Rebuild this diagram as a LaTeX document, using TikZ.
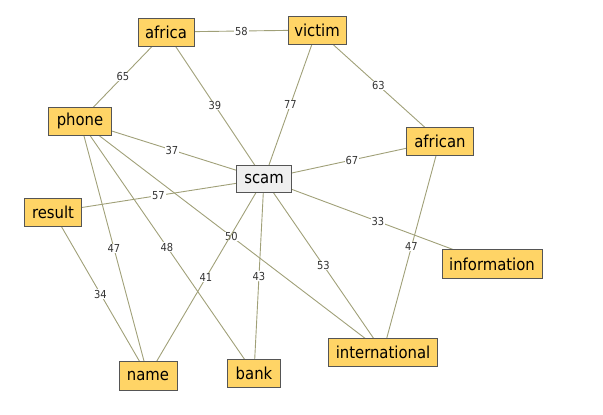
\documentclass[tikz,border=0pt]{standalone}
\usepackage{fontspec}
\setmainfont{DejaVu Sans Condensed}
\usetikzlibrary{backgrounds}
\definecolor{nodefill}{HTML}{FFD466}
\definecolor{scamfill}{HTML}{EFEFEF}
\definecolor{nodeborder}{HTML}{555555}
\definecolor{edgecol}{HTML}{A0A078}
\definecolor{labelcol}{HTML}{333333}
\tikzset{
  term/.style={draw=nodeborder, line width=0.9pt, fill=nodefill, minimum height=28pt, inner sep=0pt, font=\fontsize{16.5}{16.5}\selectfont},
  hub/.style={term, fill=scamfill},
  link/.style={draw=edgecol, line width=0.9pt},
  wt/.style={fill=white, inner sep=0.8pt, text=labelcol, font=\fontsize{11}{11}\selectfont, midway}
}
\begin{document}
\begin{tikzpicture}[x=1pt,y=-1pt]
\useasboundingbox (0,0) rectangle (603,415);
\node[term, minimum width=56pt] (africa) at (166,32) {africa};
\node[term, minimum width=58pt] (victim) at (317,30) {victim};
\node[term, minimum width=63pt] (phone) at (80,121) {phone};
\node[hub, minimum width=55pt, minimum height=27pt] (scam) at (264,179) {scam};
\node[term, minimum width=67pt] (african) at (440,141) {african};
\node[term, minimum width=57pt] (result) at (53,212) {result};
\node[term, minimum width=58pt, minimum height=29pt] (name) at (148,376) {name};
\node[term, minimum width=53pt] (bank) at (254,373) {bank};
\node[term, minimum width=100pt, minimum height=29pt] (information) at (492,264) {information};
\node[term, minimum width=109pt] (international) at (383,352) {international};
\begin{scope}[on background layer]
\draw[link] (africa.center) -- node[wt]{58} (victim.center);
\draw[link] (africa.center) -- node[wt]{65} (phone.center);
\draw[link] (africa.center) -- node[wt]{39} (scam.center);
\draw[link] (victim.center) -- node[wt]{77} (scam.center);
\draw[link] (victim.center) -- node[wt]{63} (african.center);
\draw[link] (phone.center) -- node[wt]{37} (scam.center);
\draw[link] (phone.center) -- node[wt]{47} (name.center);
\draw[link] (phone.center) -- node[wt]{48} (bank.center);
\draw[link] (phone.center) -- node[wt]{50} (international.center);
\draw[link] (scam.center) -- node[wt]{57} (result.center);
\draw[link] (scam.center) -- node[wt]{67} (african.center);
\draw[link] (scam.center) -- node[wt]{33} (information.center);
\draw[link] (scam.center) -- node[wt]{41} (name.center);
\draw[link] (scam.center) -- node[wt]{43} (bank.center);
\draw[link] (scam.center) -- node[wt]{53} (international.center);
\draw[link] (result.center) -- node[wt]{34} (name.center);
\draw[link] (african.center) -- node[wt]{47} (international.center);
\end{scope}
\end{tikzpicture}
\end{document}
